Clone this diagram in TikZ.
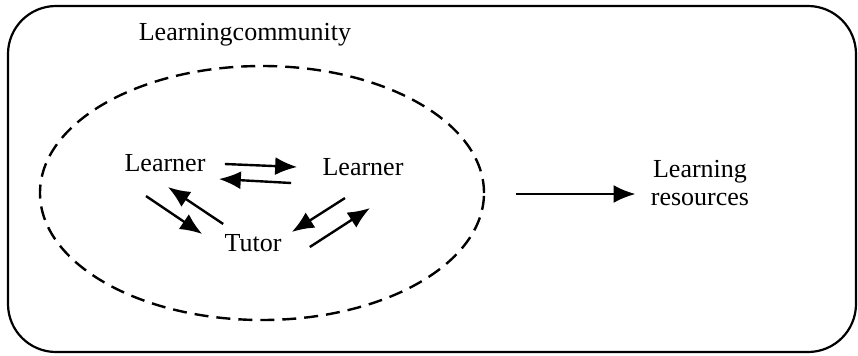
\documentclass[tikz,border=0pt]{standalone}
\usepackage{fontspec}
\setmainfont{Liberation Serif}
\usepackage{tikz}
\usetikzlibrary{arrows.meta,positioning,calc}
\tikzset{
  label/.style={inner sep=0pt,font=\fontsize{13}{14}\selectfont},
  link/.style={line width=1.2pt,-{Latex[length=11pt,width=9pt]}}
}

\begin{document}
\begin{tikzpicture}[x=0.5pt,y=-0.5pt]
        \useasboundingbox (0,0) rectangle (858,355);
        % draw community frame
        \draw[line width=1.1pt,rounded corners=24pt] (8,6) rectangle (856,352);
        \node[label] (community) at (245,35) {Learningcommunity};
        \draw[line width=1.2pt,dash pattern=on 7pt off 4pt] (262,193) ellipse [x radius=111pt,y radius=63.5pt];

        % draw members
        \node[label] (learnerA) at (165,163) {Learner};
        \node[label] (learnerB) at (363,167) {Learner};
        \node[label] (tutor) at (253,243) {Tutor};
        \node[label,align=center] (resources) at (700,183) {Learning\\resources};

        % draw arrows between members
        \draw[link] ($(learnerA.east)+(19,1)$) -- ($(learnerB.west)+(-25,0)$);
        \draw[link] ($(learnerB.west)+(-31,16)$) -- ($(learnerA.east)+(13,16)$);
        \draw[link] ($(learnerA.south)+(-19,24)$) -- ($(tutor.west)+(-22,-9)$);
        \draw[link] ($(tutor.north west)+(-1,-10)$) -- ($(learnerA.south)+(3,15)$);
        \draw[link] ($(learnerB.south)+(-18,22)$) -- ($(tutor.north east)+(10,-2)$);
        \draw[link] ($(tutor.east)+(28,4)$) -- ($(learnerB.south)+(7,32)$);

        % draw arrow to resources
        \draw[link] ($(resources.west)+(-135,11)$) -- ($(resources.west)+(-15,11)$);
    \end{tikzpicture}
\end{document}
